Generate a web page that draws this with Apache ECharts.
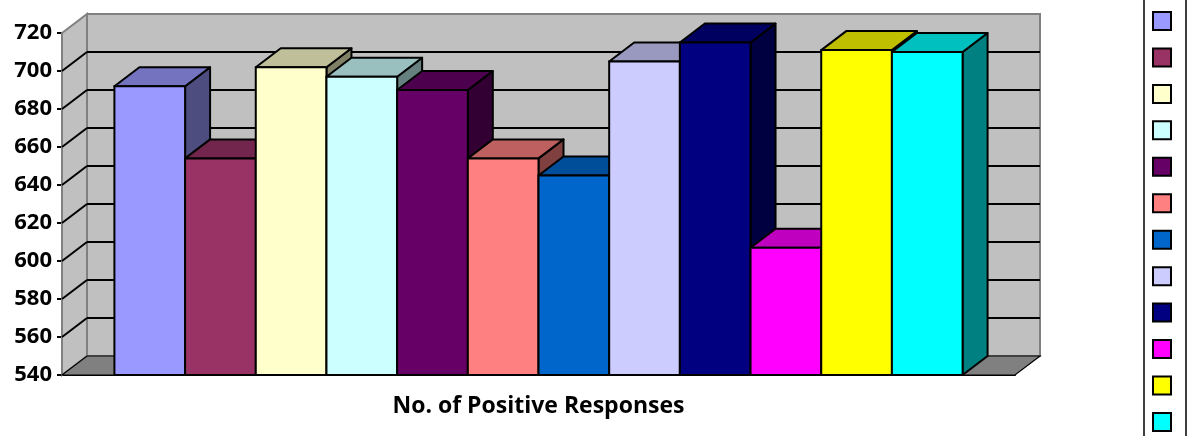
<!DOCTYPE html>
<html>
<head>
<meta charset="utf-8">
<script src="https://cdn.jsdelivr.net/npm/echarts@6/dist/echarts.min.js"></script>
<style>
  html, body { margin: 0; padding: 0; background: #ffffff; }
  #chart { width: 1190px; height: 436px; }
</style>
</head>
<body>
<div id="chart"></div>
<script>
// ---- data ----
const categories = ['No. of Positive Responses'];
const seriesNames = ['Series 1', 'Series 2', 'Series 3', 'Series 4', 'Series 5', 'Series 6',
                     'Series 7', 'Series 8', 'Series 9', 'Series 10', 'Series 11', 'Series 12'];
const values = [692, 654, 702, 697, 690, 654, 645, 705, 715, 607, 711, 710];
const colors = ['#9999FF', '#993366', '#FFFFCC', '#CCFFFF', '#660066', '#FF8080',
                '#0066CC', '#CCCCFF', '#000080', '#FF00FF', '#FFFF00', '#00FFFF'];
const yMin = 540;
const yMax = 720;
const yStep = 20;

// ---- style constants ----
const DX = 25, DY = 19;          // 3D depth offset in pixels
const BAR_FRACTION = 0.89;       // share of the category band used by the bars
const FONT = '"Open Sans", "Liberation Sans", sans-serif';

function shade(hex, f) {
  const n = parseInt(hex.slice(1), 16);
  const r = Math.round(((n >> 16) & 255) * f);
  const g = Math.round(((n >> 8) & 255) * f);
  const b = Math.round((n & 255) * f);
  return 'rgb(' + r + ',' + g + ',' + b + ')';
}

const chart = echarts.init(document.getElementById('chart'), null, { renderer: 'canvas' });

const wallSeries = {
  type: 'custom',
  name: '__walls',
  silent: true,
  z: 1,
  data: [[0, yMin]],
  renderItem: function (params, api) {
    const base = api.coord([0, yMin]);
    const topP = api.coord([0, yMax]);
    const bw = api.size([1, 0])[0];
    const xl = base[0] - bw / 2, xr = base[0] + bw / 2;
    const yb = base[1], yt = topP[1];
    const children = [];
    // back wall
    children.push({ type: 'rect', shape: { x: xl + DX, y: yt - DY, width: bw, height: yb - yt },
      style: { fill: '#C0C0C0', stroke: '#808080', lineWidth: 2 } });
    // left wall
    children.push({ type: 'polygon', shape: { points: [[xl, yt], [xl + DX, yt - DY], [xl + DX, yb - DY], [xl, yb]] },
      style: { fill: '#C0C0C0', stroke: '#808080', lineWidth: 2 } });
    // grid lines
    for (let v = yMin + yStep; v < yMax; v += yStep) {
      const y = api.coord([0, v])[1];
      children.push({ type: 'line', shape: { x1: xl + DX, y1: y - DY, x2: xr + DX, y2: y - DY },
        style: { stroke: '#000', lineWidth: 2 } });
      children.push({ type: 'line', shape: { x1: xl, y1: y, x2: xl + DX, y2: y - DY },
        style: { stroke: '#000', lineWidth: 2 } });
    }
    // floor
    children.push({ type: 'polygon', shape: { points: [[xl, yb], [xl + DX, yb - DY], [xr + DX, yb - DY], [xr, yb]] },
      style: { fill: '#808080', stroke: '#000', lineWidth: 1.2 } });
    return { type: 'group', children: children };
  }
};

const barSeries = seriesNames.map(function (name, i) {
  return {
    type: 'custom',
    name: name,
    z: 2,
    itemStyle: { color: colors[i], borderColor: '#000', borderWidth: 2 },
    data: [[0, values[i]]],
    renderItem: function (params, api) {
      const v = api.value(1);
      const base = api.coord([0, yMin]);
      const topP = api.coord([0, v]);
      const bw = api.size([1, 0])[0];
      const groupW = bw * BAR_FRACTION;
      const w = groupW / seriesNames.length;
      const x0 = base[0] - groupW / 2 + i * w;
      const yb = base[1], yt = topP[1];
      const c = colors[i];
      return {
        type: 'group',
        children: [
          { type: 'polygon', shape: { points: [[x0 + w, yt], [x0 + w + DX, yt - DY], [x0 + w + DX, yb - DY], [x0 + w, yb]] },
            style: { fill: shade(c, 0.5), stroke: '#000', lineWidth: 2, lineJoin: 'round' } },
          { type: 'polygon', shape: { points: [[x0, yt], [x0 + w, yt], [x0 + w + DX, yt - DY], [x0 + DX, yt - DY]] },
            style: { fill: shade(c, 0.75), stroke: '#000', lineWidth: 2, lineJoin: 'round' } },
          { type: 'rect', shape: { x: x0, y: yt, width: w, height: yb - yt },
            style: { fill: c, stroke: '#000', lineWidth: 2 } }
        ]
      };
    }
  };
});

const option = {
  backgroundColor: '#ffffff',
  animation: false,
  grid: { left: 62, top: 33, width: 953, height: 342, containLabel: false },
  legend: {
    data: seriesNames,
    orient: 'vertical',
    left: 1144,
    top: -3,
    height: 480,
    padding: [14, 14, 14, 8],
    itemWidth: 18,
    itemHeight: 18,
    itemGap: 16.45,
    icon: 'rect',
    borderColor: '#000',
    borderWidth: 1.5,
    selectedMode: false,
    itemStyle: { borderColor: '#000', borderWidth: 2 },
    formatter: function () { return ''; },
    textStyle: { fontSize: 1 }
  },
  xAxis: {
    type: 'category',
    data: categories,
    axisLine: { show: true, lineStyle: { color: '#000', width: 2 } },
    axisTick: { show: false },
    axisLabel: { color: '#000', fontWeight: 'bold', fontSize: 23, fontFamily: FONT, margin: 20 },
    splitLine: { show: false }
  },
  yAxis: {
    type: 'value',
    min: yMin,
    max: yMax,
    interval: yStep,
    axisLine: { show: true, lineStyle: { color: '#000', width: 2 } },
    axisTick: { show: true, length: 5, lineStyle: { color: '#000', width: 2 } },
    axisLabel: { color: '#000', fontWeight: 'bold', fontSize: 22, fontFamily: FONT, margin: 10 },
    splitLine: { show: false }
  },
  series: [wallSeries].concat(barSeries)
};

chart.setOption(option);
</script>
</body>
</html>
